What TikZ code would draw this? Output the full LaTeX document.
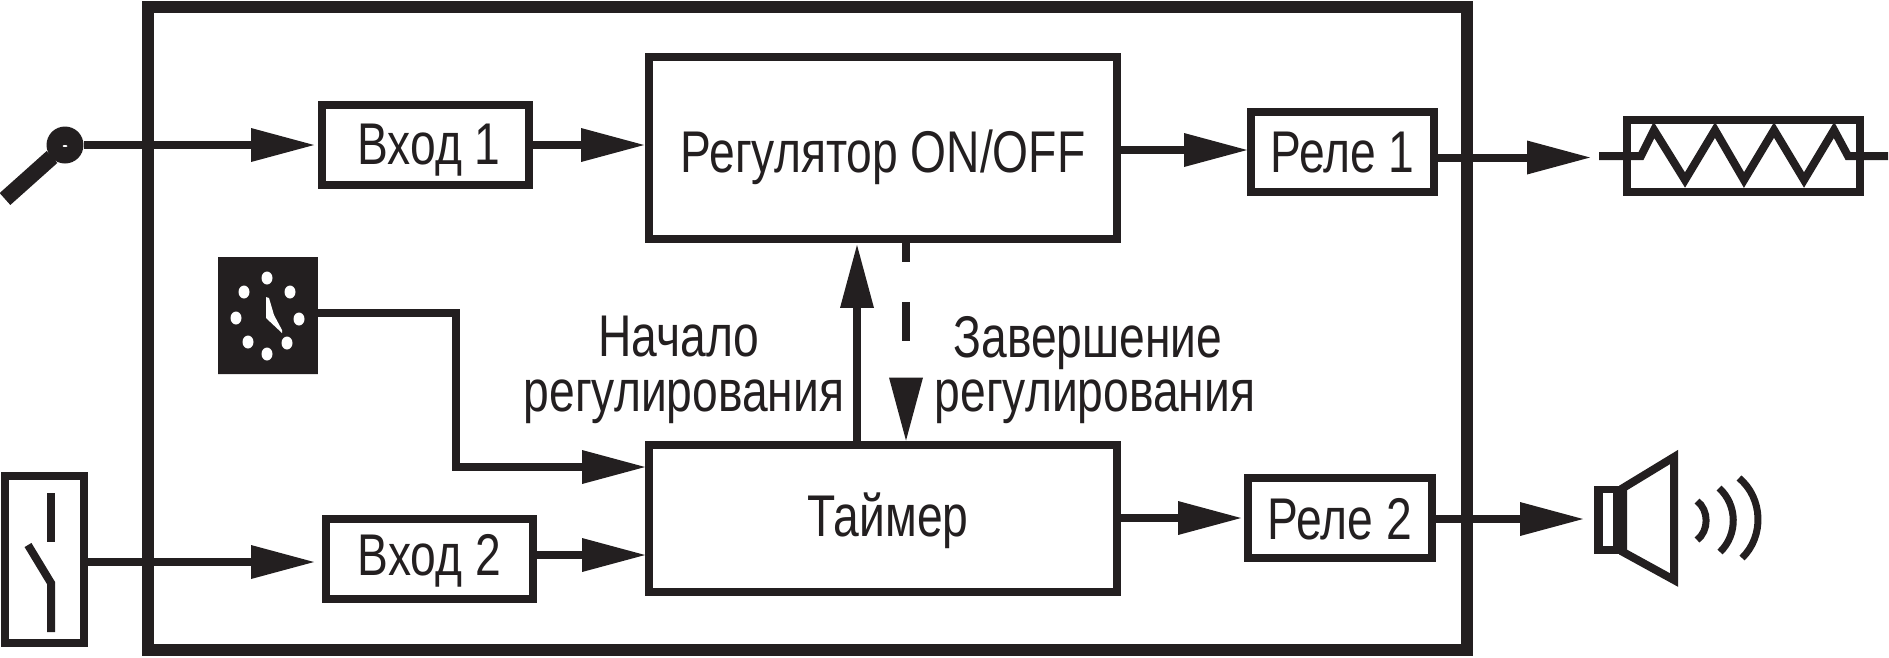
\documentclass[tikz,border=0pt]{standalone}
\usepackage{fontspec}
\setmainfont{Liberation Sans}[FakeStretch=0.785]
\usetikzlibrary{arrows.meta, shapes.misc}
\definecolor{ink}{HTML}{231F20}
\begin{document}
\begin{tikzpicture}[x=0.02cm, y=-0.02cm,
		blk/.style={draw=ink, line width=0.16cm, rectangle, inner sep=0pt, font=\fontsize{33.5}{31}\selectfont, text=ink, text height=0.8cm, text depth=0pt},
		conn/.style={draw=ink, line width=0.16cm, -{Triangle[length=1.26cm, width=0.68cm, line width=0pt]}, ink},
		wire/.style={draw=ink, line width=0.16cm},
		wave/.style={draw=ink, line width=0.14cm},
		lbl/.style={align=center, inner sep=0pt, font=\fontsize{33.5}{31.2}\selectfont, text=ink}]
		\useasboundingbox(0, 0)rectangle(1889, 657);
		\draw[ink, line width=0.24cm](148, 7)rectangle(1467, 650);
		\node[blk, minimum width=4.14cm, minimum height=1.6cm, text height=0.76cm](in1)at(425.5, 145){\hspace*{4pt}Вход 1};
		\node[blk, minimum width=4.14cm, minimum height=1.6cm, text height=0.64cm](in2)at(429.5, 559){Вход 2};
		\node[blk, minimum width=9.36cm, minimum height=3.64cm, text height=0.96cm](reg)at(883, 148){Регулятор ON/OFF};
		\node[blk, minimum width=9.36cm, minimum height=2.94cm, text height=0.72cm](tmr)at(883, 518){\hspace*{5.7pt}Таймер};
		\node[blk, minimum width=3.66cm, minimum height=1.6cm](rel1)at(1342.5, 152){Реле 1};
		\node[blk, minimum width=3.68cm, minimum height=1.6cm, text height=0.84cm](rel2)at(1340, 518){Реле 2};
		\node[lbl](start)at(684, 370){Начало\hspace*{5.7pt}\\регулирования};
		\node[lbl](stop)at(1095, 370){Завершение\hspace*{7.9pt}\\регулирования};
		\node[circle, fill=ink, minimum size=0.74cm, inner sep=0pt](sens)at(65, 145){};
		\fill[white](65, 146)ellipse[x radius=2.5, y radius=1];
		\draw[ink, line width=0.32cm](5, 199)--(52, 157);
		\node[draw=ink, line width=0.16cm, minimum width=1.58cm, minimum height=3.34cm, inner sep=0pt](swbox)at(44.5, 559.5){};
		\draw[wire](51, 493)--(51, 542);
		\draw[wire, miter limit=2](28, 545)--(51, 583)--(51, 632);
		\node[chamfered rectangle, chamfered rectangle xsep=0.1cm, chamfered rectangle ysep=0.1cm, fill=ink, minimum width=2cm, minimum height=2.34cm, inner sep=0pt](clock)at(268, 315.5){};
		\foreach \dx/\dy in {267/278, 290/292, 299/319, 287/343, 267/354, 248/342, 236/318, 244/292}
			\fill[white](\dx, \dy)ellipse[x radius=5.5, y radius=6.5];
		\fill[white](266, 297)--(269, 298)--(274, 315)--(282, 330)--(282, 333)--(266, 318)--cycle;
		\node[draw=ink, line width=0.16cm, minimum width=4.66cm, minimum height=1.44cm, inner sep=0pt](heat)at(1743.5, 156){};
		\draw[wire](1599, 156)--(1641, 156)--(1654, 130)--(1685, 180)--(1715, 130)--(1744, 180)--(1774, 130)--(1804, 180)--(1834, 130)--(1848, 156)--(1888, 156);
		\coordinate(heatin)at(1590, 157.5);
		\coordinate(spkin)at(1583, 519);
		\draw[ink, line width=0.16cm, fill=white](1623, 488)--(1674, 457)--(1674, 580)--(1623, 552)--cycle;
		\fill[ink](1594, 486)rectangle(1627, 554);
		\fill[white](1603, 493)rectangle(1613, 546);
		\draw[wave](1697, 501)to[bend left=53](1697, 540);
		\draw[wave](1719, 488)to[bend left=47](1720, 552);
		\draw[wave](1739, 478)to[bend left=48](1742, 558);
		\coordinate(bend)at(456, 313);
		\coordinate(knee)at(456, 467);
		\coordinate(in2out)at(537, 555);
		\coordinate(swout)at(318, 562);
		\coordinate(regout)at(1121, 150);
		\coordinate(rel1out)at(1438, 157.5);
		\coordinate(tmrout)at(1121, 518);
		\coordinate(rel2out)at(1436, 519);
		\coordinate(upx)at(857, 0);
		\coordinate(dnx)at(906, 0);
		\draw[conn, shorten >=0.08cm](sens)--(in1);
		\draw[conn, shorten >=0.02cm](in1)--(in1-|reg.west);
		\draw[conn](regout)--(regout-|rel1.west);
		\draw[conn](rel1out)--(heatin);
		\draw[conn, shorten >=0.08cm](swbox.east|-swout)--(swout);
		\draw[conn](in2out)--(in2out-|tmr.west);
		\draw[conn, shorten >=0.06cm](tmrout)--(tmrout-|rel2.west);
		\draw[conn](rel2out)--(spkin);
		\draw[conn](clock.east|-bend)--(bend)--(knee)--(knee-|tmr.west);
		\draw[conn, shorten >=0.04cm](tmr.north-|upx)--(reg.south-|upx);
		\draw[conn, dash pattern=on 22.1pt off 22.7pt, dash phase=11.3pt](reg.south-|dnx)--(tmr.north-|dnx);
	\end{tikzpicture}
\end{document}
